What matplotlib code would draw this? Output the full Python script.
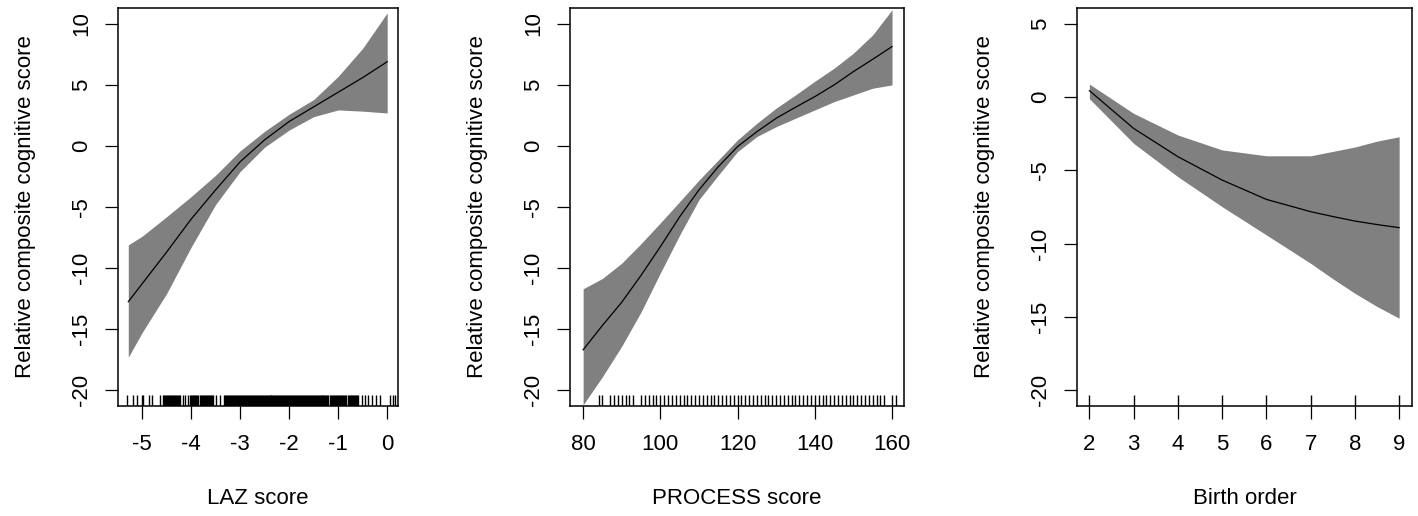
import matplotlib
matplotlib.use("Agg")
import matplotlib.pyplot as plt

plt.rcParams["font.family"] = ["Liberation Sans", "DejaVu Sans"]
plt.rcParams["axes.unicode_minus"] = False

# --- LAZ panel ---
laz_x = [-5.28, -5.0, -4.5, -4.0, -3.5, -3.0, -2.5, -2.0, -1.5, -1.0, -0.5, 0.0]
laz_fit = [-12.76, -11.3, -8.7, -6.0, -3.6, -1.3, 0.5, 2.0, 3.2, 4.4, 5.6, 6.9]
laz_upper = [-8.1, -7.4, -5.8, -4.15, -2.4, -0.4, 1.2, 2.6, 3.8, 5.7, 8.0, 10.9]
laz_lower = [-17.3, -15.3, -12.1, -8.3, -4.8, -2.1, -0.1, 1.3, 2.4, 2.95, 2.85, 2.7]
laz_rug = [
    -5.30, -5.18, -5.10, -5.00, -4.97, -4.86, -4.80, -4.63, -4.57,
    -4.55, -4.53, -4.51, -4.49, -4.47, -4.45, -4.43, -4.41, -4.39, -4.37,
    -4.35, -4.33, -4.31, -4.29, -4.27, -4.25,
    -4.22, -4.17, -4.12, -4.07,
    -4.02, -4.00, -3.98, -3.96, -3.94, -3.92, -3.90, -3.88, -3.86,
    -3.81, -3.79, -3.77, -3.75, -3.73, -3.71, -3.69, -3.67, -3.65, -3.63,
    -3.61, -3.59, -3.57, -3.55,
    -3.49, -3.41, -3.32,
    -3.30, -3.28, -3.26, -3.24, -3.22, -3.20, -3.18, -3.16, -3.14, -3.12,
    -3.10, -3.08, -3.06, -3.04, -3.02, -3.00, -2.98, -2.96, -2.94, -2.92,
    -2.90, -2.88, -2.86, -2.84, -2.82, -2.80, -2.78, -2.76, -2.74, -2.72,
    -2.70, -2.68, -2.66, -2.64, -2.62, -2.60, -2.58, -2.56, -2.54, -2.52,
    -2.50, -2.48, -2.46, -2.44, -2.42, -2.40, -2.38, -2.36, -2.34, -2.32,
    -2.30, -2.28, -2.26, -2.24, -2.22, -2.20, -2.18, -2.16, -2.14, -2.12,
    -2.10, -2.08, -2.06, -2.04, -2.02, -2.00, -1.98, -1.96, -1.94, -1.92,
    -1.90, -1.88, -1.86, -1.84, -1.82, -1.80, -1.78, -1.76, -1.74, -1.72,
    -1.70, -1.68, -1.66, -1.64, -1.62, -1.60, -1.58, -1.56, -1.54, -1.52,
    -1.50, -1.48, -1.46, -1.44, -1.42, -1.40, -1.38, -1.36, -1.34, -1.32,
    -1.30, -1.28, -1.26, -1.24, -1.22, -1.20,
    -1.16, -1.14, -1.12, -1.10, -1.08, -1.06, -1.04, -1.02, -1.00, -0.98,
    -0.96, -0.94, -0.92, -0.90, -0.88, -0.86, -0.84,
    -0.79, -0.77, -0.75, -0.73, -0.71, -0.69, -0.67, -0.65, -0.63, -0.61, -0.59,
    -0.52, -0.45, -0.39, -0.31, -0.22, -0.14, 0.05, 0.11, 0.15,
]

# --- PROCESS panel ---
proc_x = [80, 85, 90, 95, 100, 105, 110, 115, 120, 125, 130, 135, 140, 145, 150, 155, 160]
proc_fit = [-16.7, -14.7, -12.8, -10.6, -8.25, -5.8, -3.6, -1.7, -0.05, 1.17, 2.27, 3.17,
            4.04, 5.0, 6.09, 7.1, 8.14]
proc_upper = [-11.7, -10.85, -9.6, -8.0, -6.3, -4.56, -2.8, -1.15, 0.5, 1.86, 3.1, 4.18,
              5.3, 6.37, 7.6, 9.1, 11.15]
proc_lower = [-21.2, -18.9, -16.4, -13.6, -10.4, -7.3, -4.4, -2.4, -0.46, 0.77, 1.58, 2.27,
              2.95, 3.63, 4.18, 4.73, 5.0]
proc_rug = [84, 85, 87, 88, 89, 90, 91, 92, 93] + list(range(95, 159)) + [160, 161]

# --- Birth order panel ---
birth_x = [2, 3, 4, 5, 6, 7, 7.5, 8, 8.5, 9]
birth_fit = [0.45, -2.13, -4.06, -5.66, -6.98, -7.82, -8.15, -8.46, -8.7, -8.91]
birth_upper = [0.9, -1.1, -2.58, -3.6, -4.0, -4.0, -3.7, -3.4, -3.0, -2.7]
birth_lower = [-0.1, -3.15, -5.43, -7.48, -9.41, -11.35, -12.4, -13.4, -14.3, -15.1]
birth_rug = [2, 3, 4, 5, 6, 7, 8, 9]

ylabel = "Relative composite cognitive score"
panels = [
    (laz_x, laz_fit, laz_upper, laz_lower, laz_rug, "LAZ score",
     [-5, -4, -3, -2, -1, 0], (-5.49, 0.22), [-20, -15, -10, -5, 0, 5, 10], (-21.3, 11.3),
     [118, 398]),
    (proc_x, proc_fit, proc_upper, proc_lower, proc_rug, "PROCESS score",
     [80, 100, 120, 140, 160], (76.6, 163.1), [-20, -15, -10, -5, 0, 5, 10], (-21.3, 11.3),
     [570, 904]),
    (birth_x, birth_fit, birth_upper, birth_lower, birth_rug, "Birth order",
     [2, 3, 4, 5, 6, 7, 8, 9], (1.72, 9.29), [-20, -15, -10, -5, 0, 5], (-21.1, 6.1),
     [1077, 1412]),
]

W, H = 1418, 516
fig = plt.figure(figsize=(W / 100, H / 100), dpi=100)
top_px, bot_px = 8, 406

for x, fit, up, lo, rug, xlabel, xt, xl, yt, yl, (l_px, r_px) in panels:
    ax = fig.add_axes([l_px / W, (H - bot_px) / H, (r_px - l_px) / W, (bot_px - top_px) / H])
    ax.fill_between(x, lo, up, color="#808080", linewidth=0)
    ax.plot(x, fit, color="black", linewidth=0.9)
    ax.vlines(rug, 0, 0.027, transform=ax.get_xaxis_transform(), color="black", linewidth=1.0)
    ax.set_xlim(*xl)
    ax.set_ylim(*yl)
    ax.set_xticks(xt)
    ax.set_yticks(yt)
    ax.tick_params(axis="both", direction="out", length=9.5, width=0.9, labelsize=16, color="black")
    ax.tick_params(axis="x", pad=11)
    ax.tick_params(axis="y", pad=9, labelrotation=90)
    for lab in ax.get_yticklabels():
        lab.set_verticalalignment("center")
    for s in ax.spines.values():
        s.set_linewidth(1.1)
    ax.set_xlabel(xlabel, fontsize=16)
    ax.set_ylabel(ylabel, fontsize=16)
    hpx = bot_px - top_px
    wpx = r_px - l_px
    ax.xaxis.set_label_coords(0.5, -(488 - bot_px) / hpx)
    ax.yaxis.set_label_coords(-82 / wpx, 0.5)

fig.savefig("out.png", dpi=100)
